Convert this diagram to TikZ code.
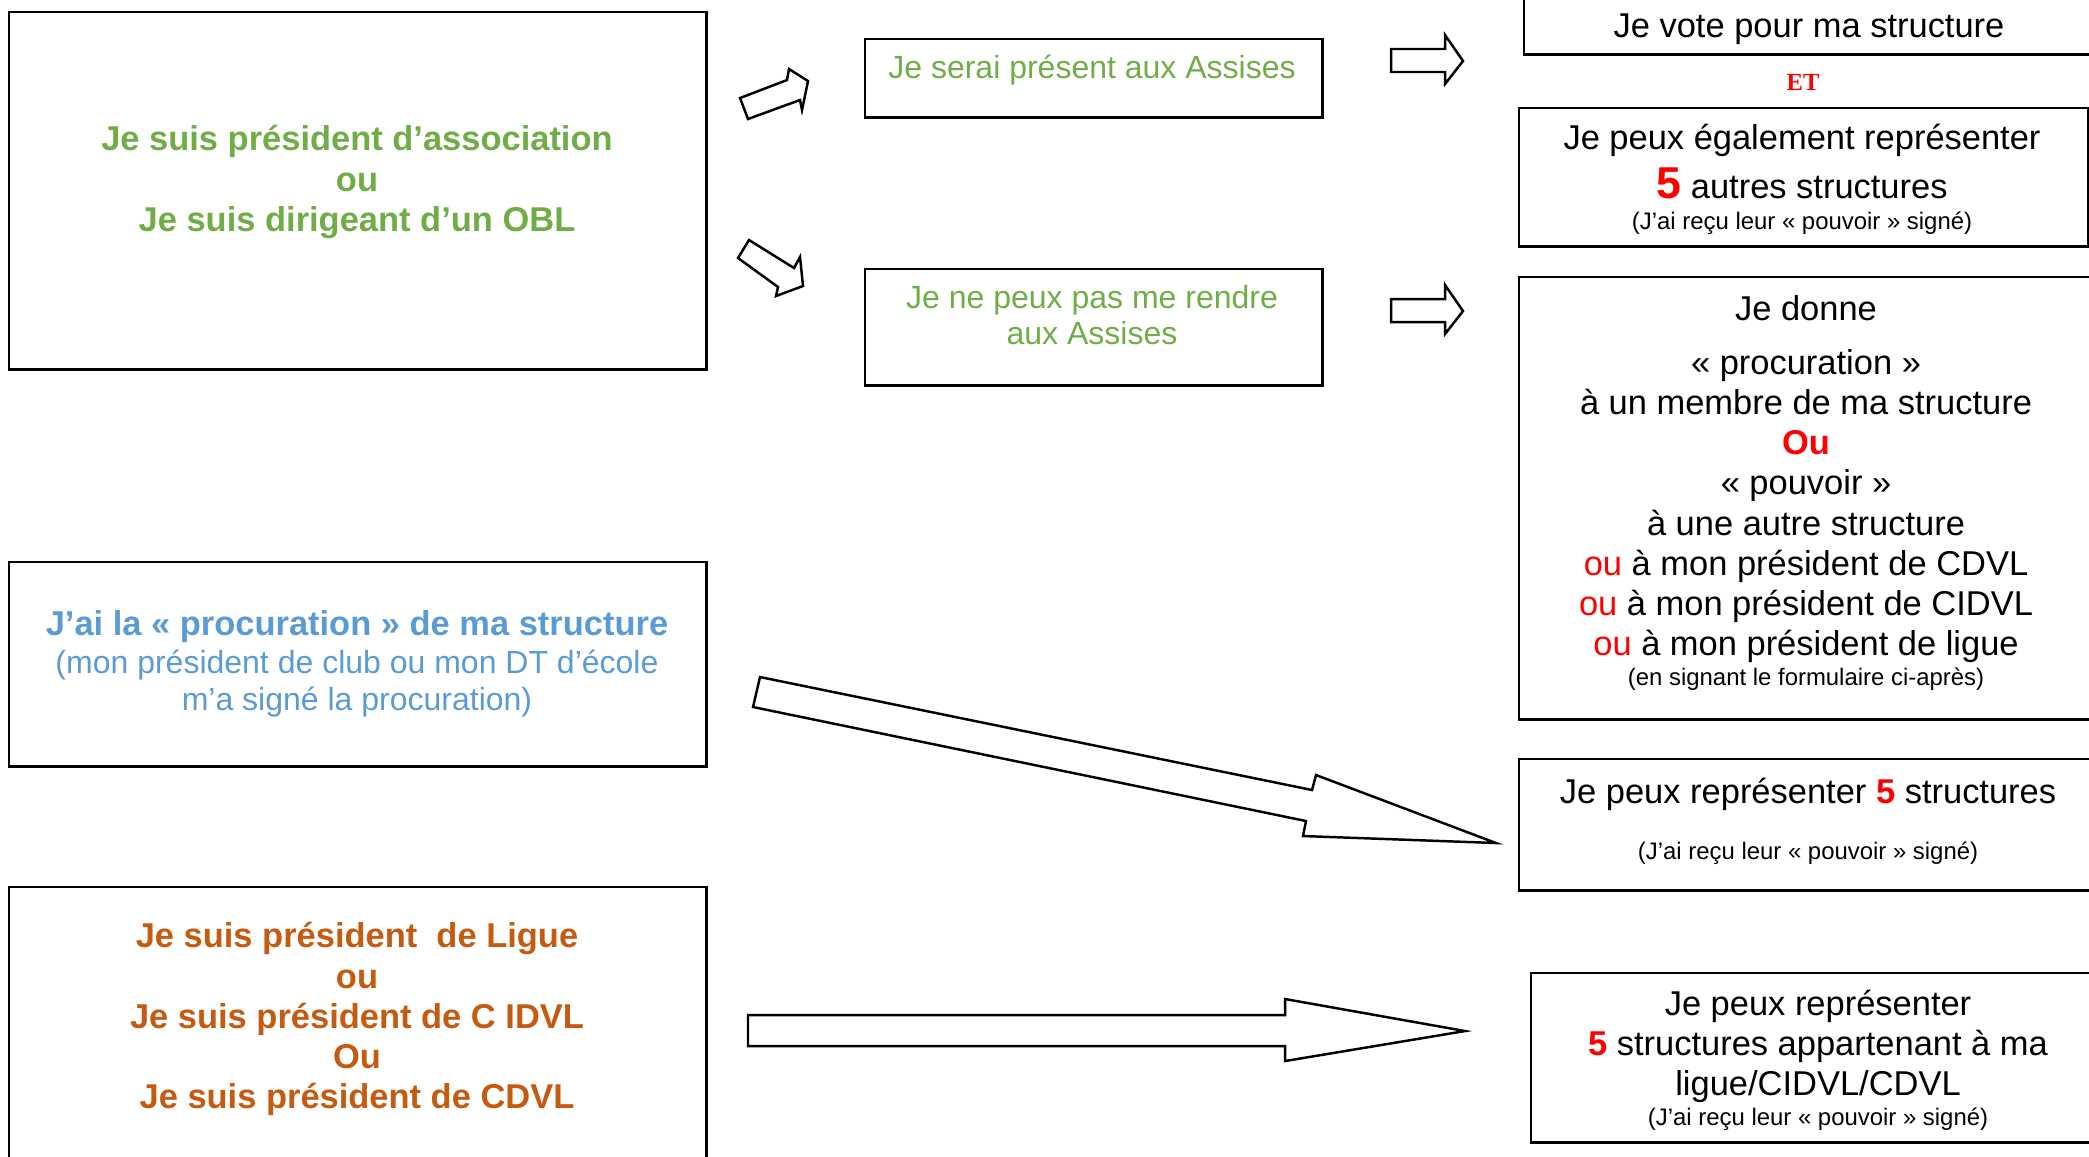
\documentclass[tikz,border=0pt]{standalone}
\usepackage{fontspec}
\setmainfont{Liberation Sans}
\newfontfamily\etfont{Liberation Serif}
\definecolor{assocgreen}{HTML}{70AD47}
\definecolor{procblue}{HTML}{5B9BD5}
\definecolor{ligueorange}{HTML}{C55A11}
\newcommand\petit{\fontsize{6.8}{8}\selectfont}
\newcommand\cinq{\textcolor{red}{\textbf{5}}}
\begin{document}
\begin{tikzpicture}[x=0.01cm,y=-0.01cm,
    cadre/.style={draw,line width=0.7pt,inner sep=0pt,anchor=north west},
    texte/.style={align=center,inner sep=0pt,font=\fontsize{9.8}{11.4}\selectfont},
    fleche/.style={draw,line width=0.7pt,line join=miter,fill=white}]
  \useasboundingbox (0,0) rectangle (2089,1156);
  \node[cadre,minimum width=6.97cm,minimum height=3.57cm] (assoc) at (8,11) {};
  \node[cadre,minimum width=4.57cm,minimum height=0.78cm] (present) at (864,38) {};
  \node[cadre,minimum width=4.57cm,minimum height=1.16cm] (absent) at (864,268) {};
  \node[cadre,minimum width=6.5cm,minimum height=1.13cm] (vote) at (1523,-60) {};
  \node[cadre,minimum width=5.69cm,minimum height=1.38cm] (autres) at (1518,107) {};
  \node[cadre,minimum width=6cm,minimum height=4.42cm] (donne) at (1518,276) {};
  \node[cadre,minimum width=6.97cm,minimum height=2.04cm] (procu) at (8,561) {};
  \node[cadre,minimum width=6cm,minimum height=1.31cm] (cinqstruct) at (1518,758) {};
  \node[cadre,minimum width=6.97cm,minimum height=3.5cm] (ligue) at (8,886) {};
  \node[cadre,minimum width=6cm,minimum height=1.69cm] (ligcinq) at (1530,972) {};

  \node[texte,text=assocgreen,font=\fontsize{9.8}{11.4}\selectfont\bfseries] (assoc-t) at (357,182)
    {Je suis président d’association\\ou\\Je suis dirigeant d’un OBL};
  \node[texte,text=assocgreen,font=\fontsize{9.1}{10.5}\selectfont] (present-t) at (1092,70)
    {Je serai présent aux Assises};
  \node[texte,text=assocgreen,font=\fontsize{9.1}{10.5}\selectfont] (absent-t) at (1092,315)
    {Je ne peux pas me rendre\\aux Assises};
  \node[texte] (vote-t) at (1809,29) {Je vote pour ma structure};
  \node[text=red,inner sep=0pt,font=\etfont\bfseries\fontsize{7}{8}\selectfont] (et) at (1803,82) {ET};
  \node[texte] (autres-t) at (1802,179)
    {Je peux également représenter\\[2.5pt]{\fontsize{12.7}{14}\selectfont\cinq} autres structures\\[-2.6pt]{\petit (J’ai reçu leur « pouvoir » signé)}};
  \node[texte] (donne-t) at (1806,493)
    {Je donne\\[4pt]« procuration »\\à un membre de ma structure\\\textcolor{red}{\textbf{Ou}}\\« pouvoir »\\à une autre structure\\\textcolor{red}{ou} à mon président de CDVL\\\textcolor{red}{ou} à mon président de CIDVL\\\textcolor{red}{ou} à mon président de ligue\\[-2.8pt]{\petit (en signant le formulaire ci-après)}};
  \node[texte,text=procblue,font=\fontsize{9.1}{10.6}\selectfont] (procu-t) at (357,664)
    {{\fontsize{9.8}{10.6}\selectfont\bfseries J’ai la « procuration » de ma structure}\\(mon président de club ou mon DT d’école\\m’a signé la procuration)};
  \node[texte] (cinqstruct-t) at (1808,821)
    {Je peux représenter \cinq{} structures\\[4.5pt]{\petit (J’ai reçu leur « pouvoir » signé)}};
  \node[texte,text=ligueorange,font=\fontsize{9.8}{11.4}\selectfont\bfseries] (ligue-t) at (357,1019)
    {Je suis président\ \ de Ligue\\ou\\Je suis président de C IDVL\\Ou\\Je suis président de CDVL};
  \node[texte] (ligcinq-t) at (1818,1060)
    {Je peux représenter\\\cinq{} structures appartenant à ma\\ligue/CIDVL/CDVL\\[-3pt]{\petit (J’ai reçu leur « pouvoir » signé)}};

  \draw[fleche] (740,98) -- (787,80) -- (789,69) -- (808,81) -- (802,110) -- (800,100) -- (748,119) -- cycle;
  \draw[fleche] (749,240) -- (794,268) -- (800,257) -- (803,286) -- (776,296) -- (778,287) -- (738,258) -- cycle;
  \draw[fleche] (1391,49) -- (1445,49) -- (1445,35) -- (1463,61) -- (1445,84) -- (1445,72) -- (1391,72) -- cycle;
  \draw[fleche] (1391,299) -- (1445,299) -- (1445,285) -- (1463,311) -- (1445,334) -- (1445,322) -- (1391,322) -- cycle;
  \draw[fleche] (760,677) -- (1312,790) -- (1316,775) -- (1496,843) -- (1303,836) -- (1306,821) -- (753,707) -- cycle;
  \draw[fleche] (748,1015) -- (1285,1015) -- (1285,999) -- (1465,1031) -- (1285,1061) -- (1285,1046) -- (748,1046) -- cycle;
\end{tikzpicture}
\end{document}
